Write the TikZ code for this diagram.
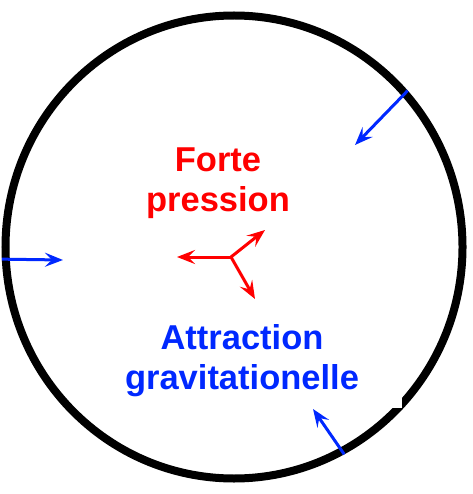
\documentclass[tikz,border=0pt]{standalone}
\usepackage{fontspec}
\setmainfont{Liberation Sans}
\usetikzlibrary{arrows.meta,shapes.geometric}
\definecolor{starred}{RGB}{255,0,0}
\definecolor{starblue}{RGB}{0,40,255}
\tikzset{
  starpicture/.style={x=1pt, y=-1pt},
  starshell/.style={ellipse, draw=black, line width=8pt, minimum width=457pt, minimum height=463pt, inner sep=0pt},
  startext/.style={align=center, font=\fontsize{34.5}{40}\selectfont\bfseries, inner sep=0pt},
  starpush/.style={-{Stealth[length=18pt, width=14pt, inset=7pt]}, line width=3pt, draw=starred},
  starpull/.style={-{Stealth[length=18pt, width=14pt, inset=7pt]}, line width=3pt, draw=starblue}
}

\begin{document}
\begin{tikzpicture}[starpicture]
\useasboundingbox (0,0) rectangle (472,494);
\node[starshell] (shell) at (234,247) {};
\node[startext, text=starred] (pressure) at (218,183.5) {Forte\\pression};
\node[startext, text=starblue, fill=white, inner xsep=43pt, inner ysep=11pt] (gravity) at (242,361) {Attraction\\gravitationelle};
% pressure outward
\coordinate (core) at (231,257);
\coordinate (pushw) at (177,257);
\coordinate (pushne) at (265,230);
\coordinate (pushs) at (255,299);
\draw[starpush] (core) -- (pushw);
\draw[starpush] (core) -- (pushne);
\draw[starpush] (core) -- (pushs);
% gravity inward
\coordinate (pullne) at (355,145);
\coordinate (pullw) at (63,260);
\coordinate (pulls) at (313,409);
\draw[starpull] (shell.42) -- (pullne);
\draw[starpull] (shell.183) -- (pullw);
\draw[starpull] (shell.298) -- (pulls);
\end{tikzpicture}
\end{document}
